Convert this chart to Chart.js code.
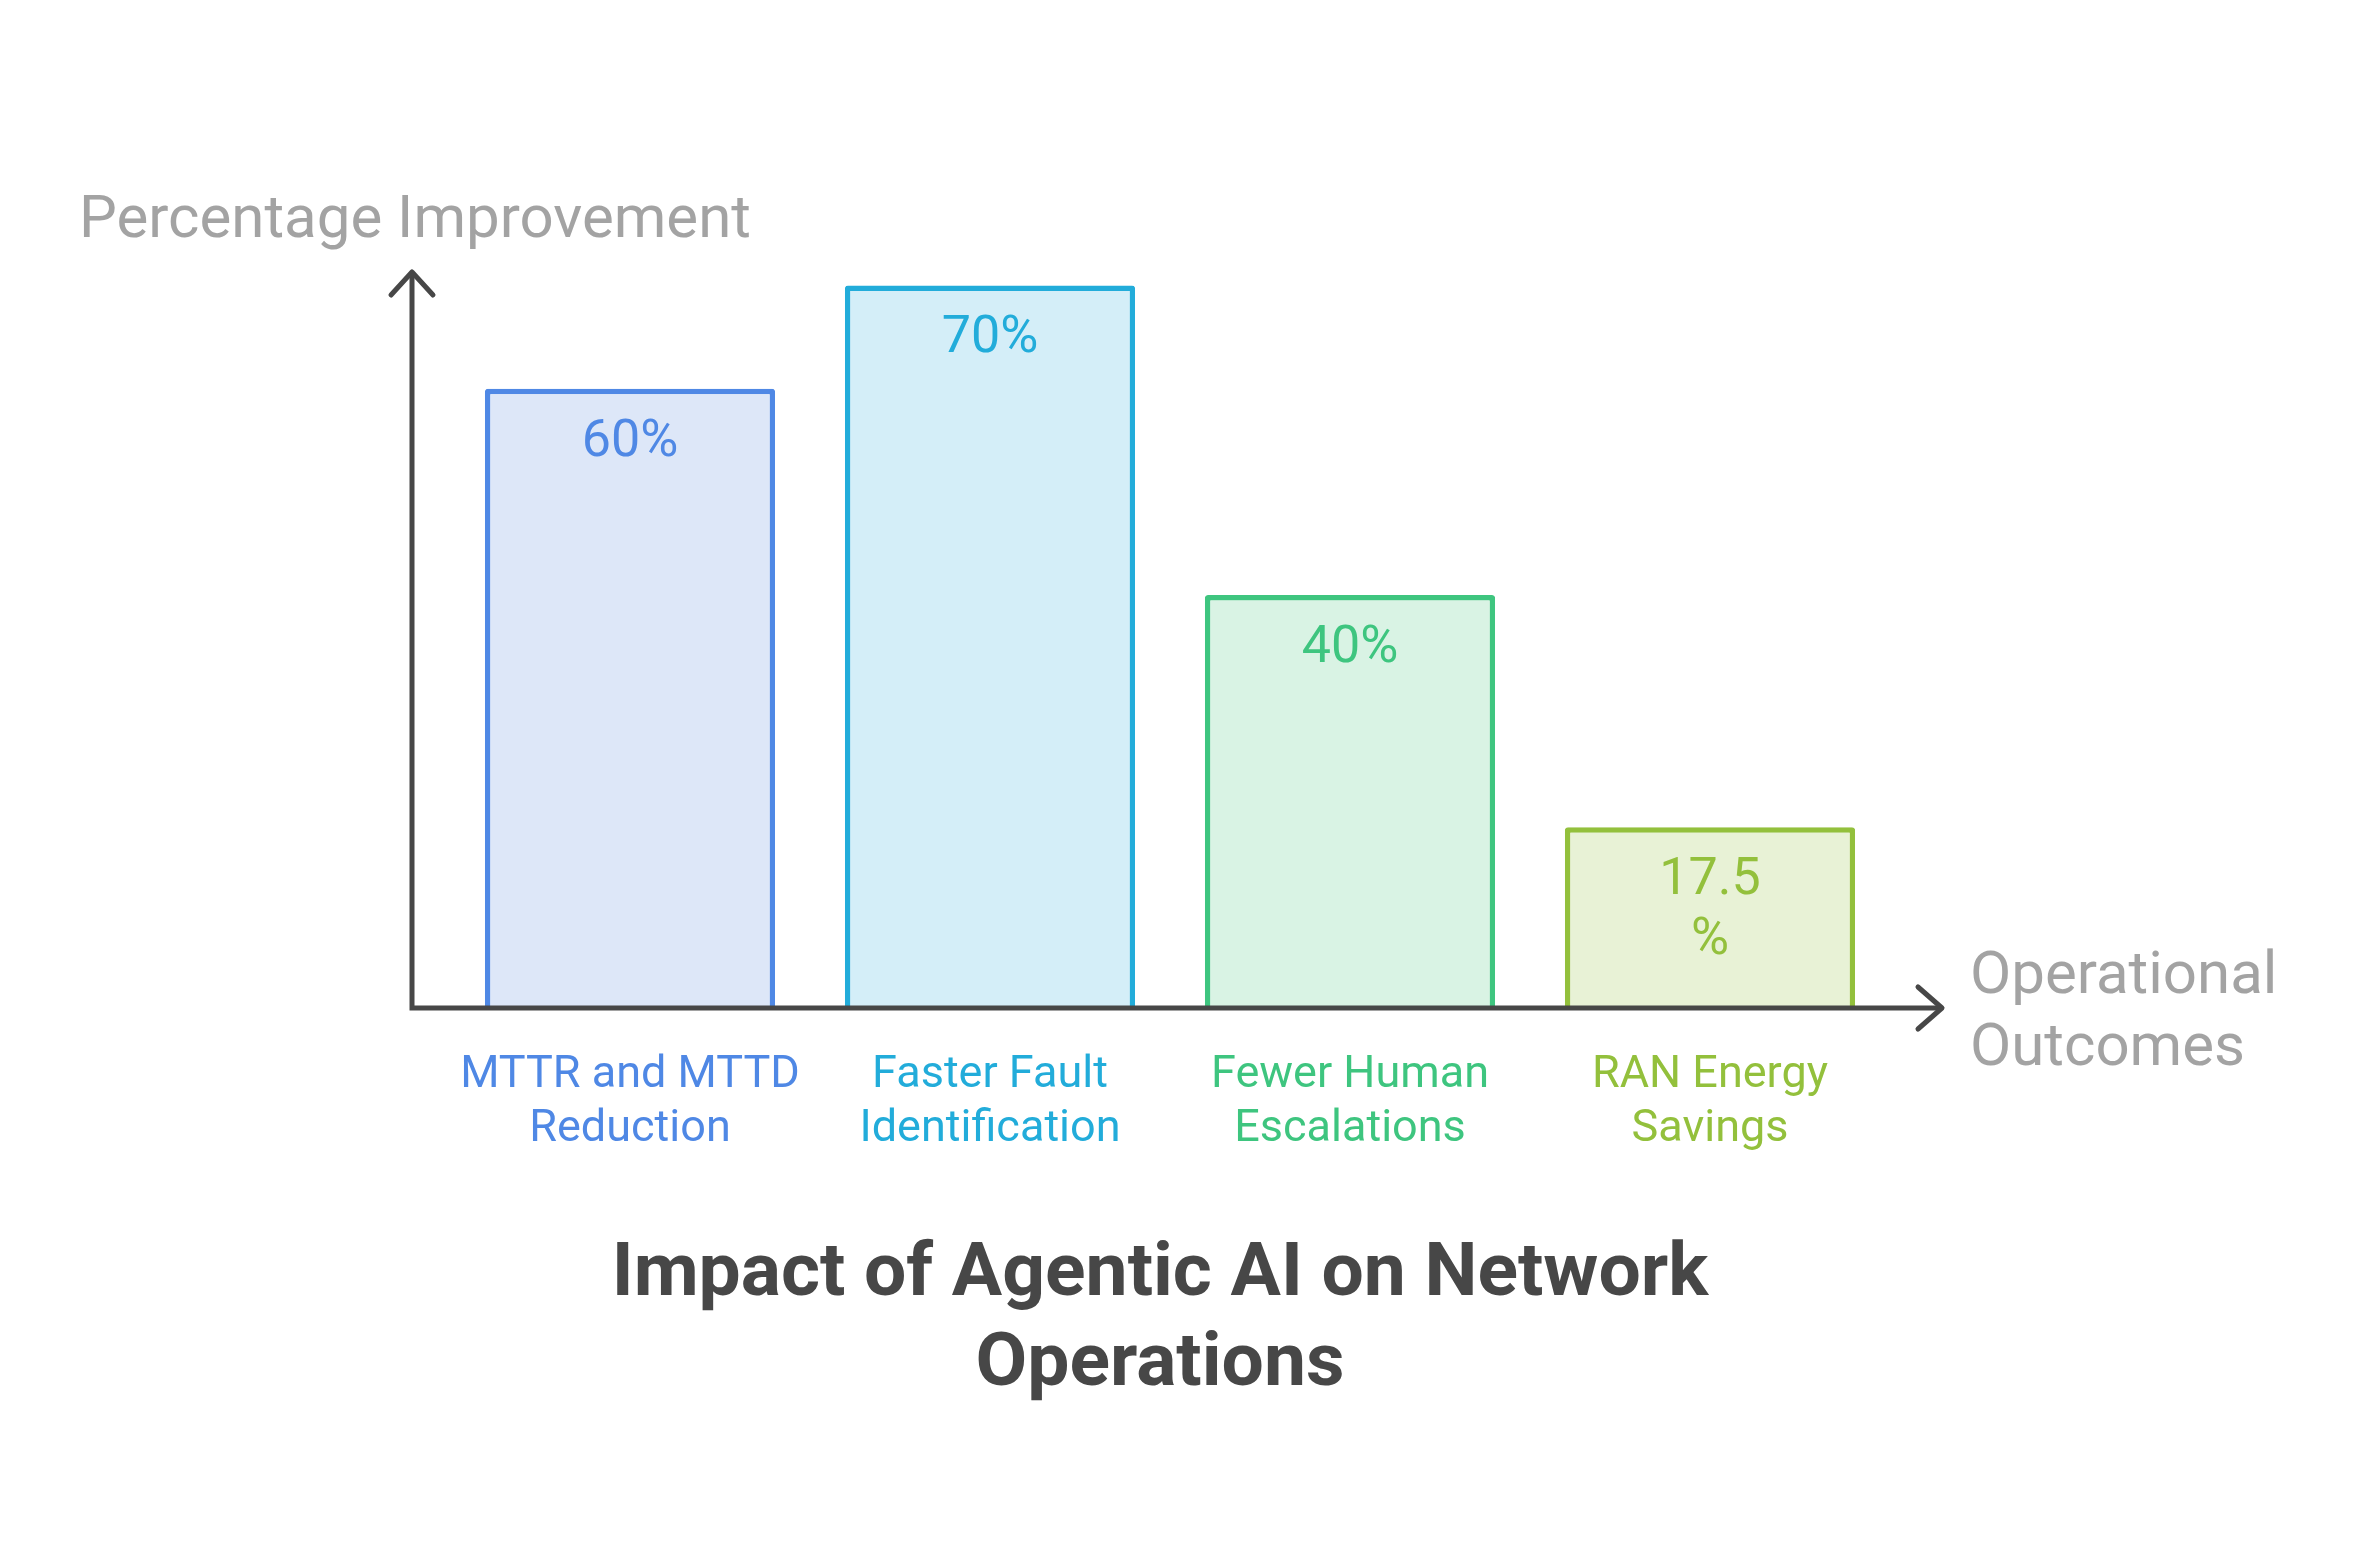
<!DOCTYPE html>
<html>
<head>
<meta charset="utf-8">
<script src="https://cdn.jsdelivr.net/npm/chart.js@4.4.1/dist/chart.umd.min.js"></script>
<style>
  html, body { margin: 0; padding: 0; background: #ffffff; }
  #c { display: block; }
</style>
</head>
<body>
<canvas id="c" width="2369" height="1548"></canvas>
<script>
// ---- data ----
const categories = [
  ['MTTR and MTTD', 'Reduction'],
  ['Faster Fault', 'Identification'],
  ['Fewer Human', 'Escalations'],
  ['RAN Energy', 'Savings']
];
const values = [60, 70, 40, 17.5];
const valueLabels = [['60%'], ['70%'], ['40%'], ['17.5', '%']];
const yAxisTitle = 'Percentage Improvement';
const xAxisTitle = ['Operational', 'Outcomes'];
const chartTitle = ['Impact of Agentic AI on Network', 'Operations'];

// ---- styles ----
const borderColors = ['#4f88e5', '#22acda', '#3ec57f', '#93c03c'];
const fillColors = ['#dde7f8', '#d4eef8', '#d9f3e4', '#e8f2d6'];
const AXIS_COLOR = '#474747';
const AXIS_TITLE_COLOR = '#a3a3a3';
const FONT = 'Roboto';

const overlay = {
  id: 'overlay',
  afterDatasetsDraw(chart) {
    const { ctx, chartArea: a, scales: { y } } = chart;
    const ax = a.left - 38;
    const ay = y.getPixelForValue(0);
    const top = a.top;
    const right = a.right + 52;
    ctx.save();
    ctx.strokeStyle = AXIS_COLOR;
    ctx.lineWidth = 5;
    ctx.lineJoin = 'miter';
    ctx.lineCap = 'butt';
    ctx.beginPath();
    ctx.moveTo(ax, top + 1);
    ctx.lineTo(ax, ay);
    ctx.lineTo(right - 1, ay);
    ctx.stroke();
    ctx.lineCap = 'round';
    ctx.lineJoin = 'round';
    ctx.beginPath();
    ctx.moveTo(ax - 21, top + 23);
    ctx.lineTo(ax, top);
    ctx.lineTo(ax + 21, top + 23);
    ctx.moveTo(right - 24, ay - 21);
    ctx.lineTo(right, ay);
    ctx.lineTo(right - 24, ay + 21);
    ctx.stroke();

    // value labels inside bars
    const meta = chart.getDatasetMeta(0);
    ctx.font = '52px ' + FONT;
    ctx.textAlign = 'center';
    ctx.textBaseline = 'alphabetic';
    meta.data.forEach((bar, i) => {
      ctx.fillStyle = borderColors[i];
      valueLabels[i].forEach((t, j) => {
        ctx.fillText(t, bar.x, bar.y + 67 + j * 60);
      });
    });

    // axis titles
    ctx.font = '60px ' + FONT;
    ctx.fillStyle = AXIS_TITLE_COLOR;
    ctx.textAlign = 'left';
    ctx.fillText(yAxisTitle, 79, top - 35);
    xAxisTitle.forEach((t, j) => {
      ctx.fillText(t, right + 28, ay - 15 + j * 72);
    });
    ctx.restore();
  }
};

function build() {
  new Chart(document.getElementById('c'), {
    type: 'bar',
    data: {
      labels: categories,
      datasets: [{
        data: values,
        backgroundColor: fillColors,
        borderColor: borderColors,
        borderWidth: 5.5,
        borderRadius: 3,
        borderSkipped: 'bottom',
        barPercentage: 0.806,
        categoryPercentage: 1.0
      }]
    },
    options: {
      responsive: false,
      devicePixelRatio: 1,
      animation: false,
      layout: { padding: { left: 430, right: 479, top: 272, bottom: 137 } },
      plugins: {
        legend: { display: false },
        tooltip: { enabled: false },
        title: {
          display: true,
          position: 'bottom',
          text: chartTitle,
          color: AXIS_COLOR,
          font: { family: FONT, size: 75, weight: 'bold', lineHeight: 90 / 75 },
          padding: { top: 33, bottom: 0 }
        }
      },
      scales: {
        x: {
          grid: { display: false, drawTicks: false },
          border: { display: false },
          ticks: {
            padding: 41,
            color: (c) => borderColors[c.index],
            font: { family: FONT, size: 45, lineHeight: 1.2 },
            maxRotation: 0,
            autoSkip: false
          }
        },
        y: {
          min: 0,
          max: 71.3,
          grid: { display: false, drawTicks: false },
          border: { display: false },
          ticks: { display: false },
          afterFit: (s) => { s.width = 20; }
        }
      }
    },
    plugins: [overlay]
  });
}

Promise.all([
  document.fonts.load('45px Roboto'),
  document.fonts.load('bold 75px Roboto')
]).then(build, build);
</script>
</body>
</html>
